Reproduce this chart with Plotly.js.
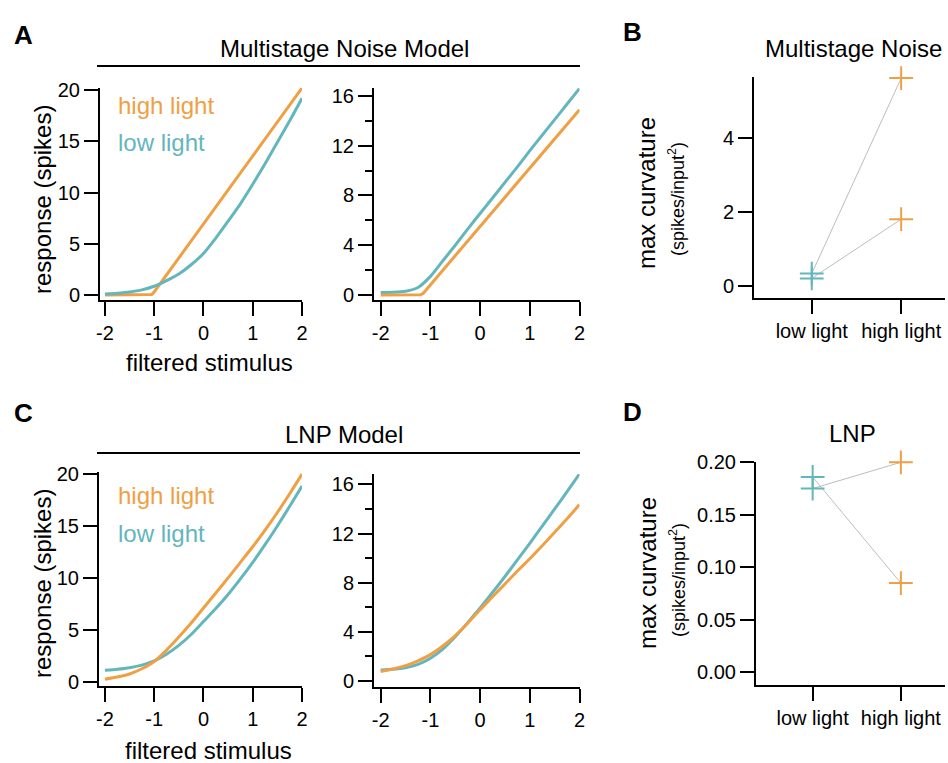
<!DOCTYPE html>
<html>
<head>
<meta charset="utf-8">
<script src="https://cdn.plot.ly/plotly-3.0.1.min.js"></script>
<style>html,body{margin:0;padding:0;background:#fff;}#chart{width:948px;height:763px;}</style>
</head>
<body>
<div id="chart"></div>
<script>
// ---------------- data ----------------
const stimulusGrid = [-2,-1.75,-1.5,-1.25,-1,-0.75,-0.5,-0.25,0,0.25,0.5,0.75,1,1.25,1.5,1.75,2];
const xTickVals = [-2,-1,0,1,2];
const xTickLabels = ['-2','-1','0','1','2'];

// Panel A (Multistage Noise Model), left
const msLeftHighX = [-2,-1.08,-1.05,-1.0,2];
const msLeftHigh  = [0,0,0.05,0.3,20.2];
const msLeftLow   = [0.1,0.18,0.3,0.5,0.85,1.4,2.05,2.95,4.05,5.55,7.2,8.9,10.8,12.8,14.9,17.0,19.2];
// Panel A, right
const msRightHighX = [-2,-1.25,-1.2,-1.15,-1.1,2];
const msRightHigh  = [0,0,0.02,0.12,0.35,14.9];
const msRightLow   = [0.2,0.22,0.3,0.6,1.5,2.75,4.0,5.3,6.55,7.8,9.05,10.3,11.6,12.85,14.1,15.35,16.6];

// Panel C (LNP Model), left
const lnpLeftHigh = [0.25,0.45,0.75,1.25,1.95,3.05,4.3,5.65,7.1,8.55,10.0,11.5,13.0,14.6,16.3,18.1,20.0];
const lnpLeftLow  = [1.1,1.2,1.35,1.6,2.0,2.65,3.5,4.55,5.8,7.05,8.4,9.9,11.5,13.2,15.0,16.9,18.85];
// Panel C, right
const lnpRightHigh = [0.78,0.98,1.25,1.65,2.15,2.85,3.7,4.7,5.8,6.85,7.9,8.95,9.95,11.0,12.1,13.2,14.35];
const lnpRightLow  = [0.9,0.95,1.08,1.35,1.85,2.6,3.6,4.75,5.95,7.2,8.5,9.85,11.2,12.6,14.0,15.4,16.85];

// Panels B and D: max curvature
const conditionLabels = ['low light','high light'];
const msCurvLow  = [0.34, 0.21];
const msCurvHigh = [5.62, 1.81];
const lnpCurvLow  = [0.175, 0.186];
const lnpCurvHigh = [0.200, 0.085];

// ---------------- style ----------------
const ORANGE = '#F0A044';
const TEAL = '#63B6BB';
const GRAY = '#BDBDBD';
const FONT = 'Helvetica, "Liberation Sans", Arial, sans-serif';
const W = 948, H = 763;
const fx = p => p / W;
const fy = p => 1 - p / H;
const dx = (a, b) => [fx(a), fx(b)];
const dy = (top, bottom) => [fy(bottom), fy(top)];

function axisBase(extra) {
  return Object.assign({
    showline: true, linewidth: 2, linecolor: '#000',
    ticks: 'outside', ticklen: 14, tickwidth: 2, tickcolor: '#000',
    showgrid: false, zeroline: false, fixedrange: true,
    tickfont: {family: FONT, size: 20, color: '#000'}
  }, extra);
}
function curveX(d, r, anchor) {
  return axisBase({domain: d, range: r, anchor: anchor, tickmode: 'array', tickvals: xTickVals, ticktext: xTickLabels});
}
function catX(d, r, anchor) {
  return axisBase({domain: d, range: r, anchor: anchor, tickmode: 'array', tickvals: [0,1], ticktext: conditionLabels});
}

const traces = [];
function line(x, y, color, xa, ya, spline) {
  traces.push({x: x, y: y, xaxis: xa, yaxis: ya, mode: 'lines', hoverinfo: 'skip',
    line: {color: color, width: 3, shape: spline ? 'spline' : 'linear', smoothing: 0.6}});
}
// A
line(msLeftHighX, msLeftHigh, ORANGE, 'x', 'y', false);
line(stimulusGrid, msLeftLow, TEAL, 'x', 'y', true);
line(stimulusGrid, msRightLow, TEAL, 'x2', 'y2', true);
line(msRightHighX, msRightHigh, ORANGE, 'x2', 'y2', false);
// C
line(stimulusGrid, lnpLeftLow, TEAL, 'x4', 'y4', true);
line(stimulusGrid, lnpLeftHigh, ORANGE, 'x4', 'y4', true);
line(stimulusGrid, lnpRightLow, TEAL, 'x5', 'y5', true);
line(stimulusGrid, lnpRightHigh, ORANGE, 'x5', 'y5', true);

function pairs(low, high, xa, ya) {
  for (let i = 0; i < low.length; i++) {
    traces.push({x: [0, 1], y: [low[i], high[i]], xaxis: xa, yaxis: ya, mode: 'lines',
      hoverinfo: 'skip', line: {color: GRAY, width: 1}});
  }
  traces.push({x: low.map(() => 0), y: low, xaxis: xa, yaxis: ya, mode: 'markers', hoverinfo: 'skip', cliponaxis: false,
    marker: {symbol: 'cross-thin', size: 17, line: {color: TEAL, width: 2}}});
  traces.push({x: high.map(() => 1), y: high, xaxis: xa, yaxis: ya, mode: 'markers', hoverinfo: 'skip', cliponaxis: false,
    marker: {symbol: 'cross-thin', size: 17, line: {color: ORANGE, width: 2}}});
}
pairs(msCurvLow, msCurvHigh, 'x3', 'y3');
pairs(lnpCurvLow, lnpCurvHigh, 'x6', 'y6');

function ann(text, x, y, size, opts) {
  return Object.assign({text: text, x: fx(x), y: fy(y), xref: 'paper', yref: 'paper', showarrow: false,
    xanchor: 'center', yanchor: 'middle', font: {family: FONT, size: size, color: '#000'}}, opts || {});
}

const annotations = [
  ann('<b>A</b>', 23, 35, 26),
  ann('<b>B</b>', 632, 32, 26),
  ann('<b>C</b>', 23, 413, 26),
  ann('<b>D</b>', 632, 412, 26),
  ann('Multistage Noise Model', 344, 48, 24),
  ann('LNP Model', 344, 434, 24),
  ann('Multistage Noise', 853, 48, 24),
  ann('LNP', 852, 433, 24),
  ann('high light', 116, 106, 24, {xanchor: 'left', font: {family: FONT, size: 24, color: ORANGE}}),
  ann('low light', 116, 143, 24, {xanchor: 'left', font: {family: FONT, size: 24, color: TEAL}}),
  ann('high light', 116, 496, 24, {xanchor: 'left', font: {family: FONT, size: 24, color: ORANGE}}),
  ann('low light', 116, 533, 24, {xanchor: 'left', font: {family: FONT, size: 24, color: TEAL}}),
  ann('response (spikes)', 42, 200, 24, {textangle: -90}),
  ann('response (spikes)', 42, 584, 24, {textangle: -90}),
  ann('filtered stimulus', 209, 362, 24),
  ann('filtered stimulus', 208, 750, 24),
  ann('max curvature', 647, 193, 24, {textangle: -90}),
  ann('(spikes/input<sup>2</sup>)', 677, 199, 18, {textangle: -90}),
  ann('max curvature', 647, 573, 24, {textangle: -90}),
  ann('(spikes/input<sup>2</sup>)', 677, 580, 18, {textangle: -90})
];

const shapes = [
  {type: 'line', xref: 'paper', yref: 'paper', x0: fx(97), x1: fx(580), y0: fy(66), y1: fy(66), line: {color: '#000', width: 2}},
  {type: 'line', xref: 'paper', yref: 'paper', x0: fx(97), x1: fx(580), y0: fy(453), y1: fy(453), line: {color: '#000', width: 2}}
];

const layout = {
  width: W, height: H, margin: {l: 0, r: 0, t: 0, b: 0},
  paper_bgcolor: '#fff', plot_bgcolor: 'rgba(0,0,0,0)', showlegend: false,
  font: {family: FONT, color: '#000'},
  xaxis:  curveX(dx(100, 302), [-2.1, 2.0], 'y'),
  yaxis:  axisBase({domain: dy(88, 300), range: [-0.49, 20.2], anchor: 'x', tickmode: 'array', tickvals: [0,5,10,15,20]}),
  xaxis2: curveX(dx(374, 579.5), [-2.135, 2.0], 'y2'),
  yaxis2: axisBase({domain: dy(88, 300), range: [-0.4, 16.64], anchor: 'x2', tick0: 0, dtick: 4,
    minor: {ticks: 'outside', dtick: 2, ticklen: 7, tickwidth: 2, tickcolor: '#000'}}),
  xaxis3: catX(dx(754, 945), [-0.646, 1.49], 'y3'),
  yaxis3: axisBase({domain: dy(77, 298), range: [-0.32, 5.65], anchor: 'x3', tickmode: 'array', tickvals: [0,2,4]}),
  xaxis4: curveX(dx(99, 302), [-2.12, 2.0], 'y4'),
  yaxis4: axisBase({domain: dy(472, 686), range: [-0.41, 20.2], anchor: 'x4', tickmode: 'array', tickvals: [0,5,10,15,20]}),
  xaxis5: curveX(dx(374, 579.5), [-2.135, 2.0], 'y5'),
  yaxis5: axisBase({domain: dy(474, 686.7), range: [-0.46, 16.84], anchor: 'x5', tick0: 0, dtick: 4,
    minor: {ticks: 'outside', dtick: 2, ticklen: 7, tickwidth: 2, tickcolor: '#000'}}),
  xaxis6: catX(dx(756, 945), [-0.642, 1.5], 'y6'),
  yaxis6: axisBase({domain: dy(462, 685), range: [-0.0121, 0.2003], anchor: 'x6', tickmode: 'array',
    tickvals: [0, 0.05, 0.10, 0.15, 0.20], tickformat: '.2f'}),
  annotations: annotations,
  shapes: shapes
};

Plotly.newPlot('chart', traces, layout, {staticPlot: true, displayModeBar: false});
</script>
</body>
</html>
